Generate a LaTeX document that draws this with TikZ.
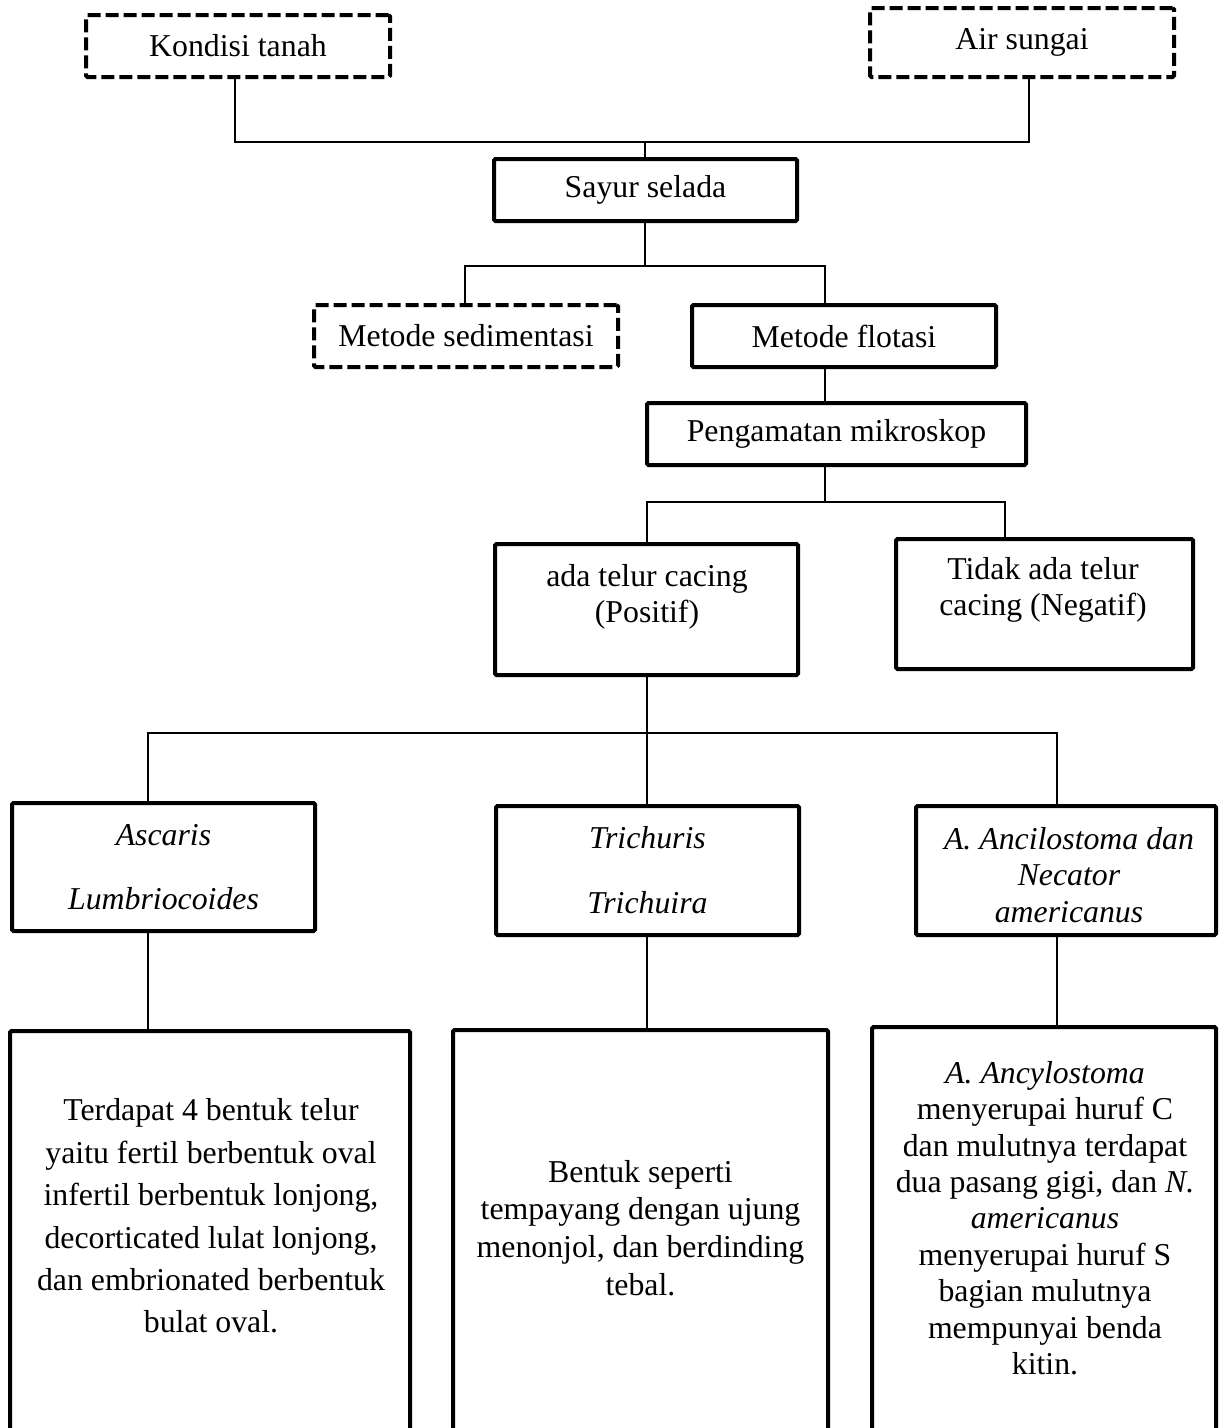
\documentclass[tikz,border=0pt]{standalone}
\usepackage{fontspec}
\setmainfont{Liberation Serif}
\newcommand\bodyfs{\fontsize{31.8}{36.4}\selectfont}
\begin{document}
\begin{tikzpicture}[x=1pt,y=-1pt,
  conn/.style={line width=1.5pt},
  solidbox/.style={draw, line width=4pt, rectangle, rounded corners=1.5pt, inner sep=0pt, align=center, font=\bodyfs},
  dashbox/.style={solidbox, dash pattern=on 13pt off 5pt},
  txt/.style={inner sep=0pt, align=center, font=\bodyfs}]
\clip (0,0) rectangle (1219,1428);
\fill[white] (0,0) rectangle (1219,1428);

% top level
\node[dashbox, minimum width=304pt, minimum height=62pt] (kt) at (238,46) {Kondisi tanah};
\node[dashbox, minimum width=304pt, minimum height=69pt] (as) at (1022,42.5) {Air sungai};
\node[solidbox, minimum width=303pt, minimum height=62pt] (ss) at (645.5,190) {Sayur selada};
\node[dashbox, minimum width=304pt, minimum height=62pt] (ms) at (466,336) {Metode sedimentasi};
\node[solidbox, minimum width=304pt, minimum height=62pt] (mf) at (844,336) {Metode flotasi};
\node[solidbox, minimum width=379pt, minimum height=62pt] (pm) at (836.5,434) {Pengamatan mikroskop};

% results
\node[solidbox, minimum width=303pt, minimum height=131pt] (pos) at (646.5,609.5) {};
\node[txt] (posT) at (647,597) {ada telur cacing\\(Positif)};
\node[solidbox, minimum width=297pt, minimum height=130pt] (neg) at (1044.5,604) {};
\node[txt] (negT) at (1043,590) {Tidak ada telur\\cacing (Negatif)};

% species
\node[solidbox, minimum width=303pt, minimum height=128pt, font=\fontsize{31.8}{64}\selectfont\itshape] (asc) at (163.5,867) {Ascaris\\Lumbriocoides};
\node[solidbox, minimum width=303pt, minimum height=129pt, font=\fontsize{31.8}{65}\selectfont\itshape] (tri) at (647.5,870.5) {Trichuris\\Trichuira};
\node[solidbox, minimum width=300pt, minimum height=129pt] (anc) at (1066,870.5) {};
\node[txt, font=\bodyfs\itshape] (ancT) at (1069,875) {A. Ancilostoma dan\\Necator\\americanus};

% descriptions (boxes run past the lower edge)
\node[solidbox, minimum width=400pt, minimum height=414pt] (d1) at (210,1238) {};
\node[txt, font=\fontsize{31.8}{42.4}\selectfont] (d1T) at (211,1216) {Terdapat 4 bentuk telur\\yaitu fertil berbentuk oval\\infertil berbentuk lonjong,\\decorticated lulat lonjong,\\dan embrionated berbentuk\\bulat oval.};
\node[solidbox, minimum width=375pt, minimum height=415pt] (d2) at (640.5,1237.5) {};
\node[txt, font=\fontsize{31.8}{37.7}\selectfont] (d2T) at (640.5,1228) {Bentuk seperti\\tempayang dengan ujung\\menonjol, dan berdinding\\tebal.};
\node[solidbox, minimum width=344pt, minimum height=418pt] (d3) at (1044,1236) {};
\node[txt] (d3T) at (1045,1218) {\textit{A. Ancylostoma}\\menyerupai huruf C\\dan mulutnya terdapat\\dua pasang gigi, dan \textit{N.}\\\textit{americanus}\\menyerupai huruf S\\bagian mulutnya\\mempunyai benda\\kitin.};

% junction coordinates
\coordinate (h1L) at (235,142);
\coordinate (h1M) at (645,142);
\coordinate (h1R) at (1029,142);
\coordinate (h2L) at (465,266);
\coordinate (h2M) at (645,266);
\coordinate (h2R) at (825,266);
\coordinate (h3L) at (647,502);
\coordinate (h3M) at (825,502);
\coordinate (h3R) at (1005,502);
\coordinate (h4L) at (148,733);
\coordinate (h4M) at (647,733);
\coordinate (h4R) at (1057,733);

% connectors
\draw[conn] (h1L |- kt.south) -- (h1L) -- (h1R) -- (h1R |- as.south);
\draw[conn] (h1M) -- (h1M |- ss.north);
\draw[conn] (h2M |- ss.south) -- (h2M);
\draw[conn] (h2L |- ms.north) -- (h2L) -- (h2R) -- (h2R |- mf.north);
\draw[conn] (h2R |- mf.south) -- (h2R |- pm.north);
\draw[conn] (h3M |- pm.south) -- (h3M);
\draw[conn] (h3L |- pos.north) -- (h3L) -- (h3R) -- (h3R |- neg.north);
\draw[conn] (h4M |- pos.south) -- (h4M |- tri.north);
\draw[conn] (h4L |- asc.north) -- (h4L) -- (h4R) -- (h4R |- anc.north);
\draw[conn] (h4L |- asc.south) -- (h4L |- d1.north);
\draw[conn] (h4M |- tri.south) -- (h4M |- d2.north);
\draw[conn] (h4R |- anc.south) -- (h4R |- d3.north);
\end{tikzpicture}
\end{document}
